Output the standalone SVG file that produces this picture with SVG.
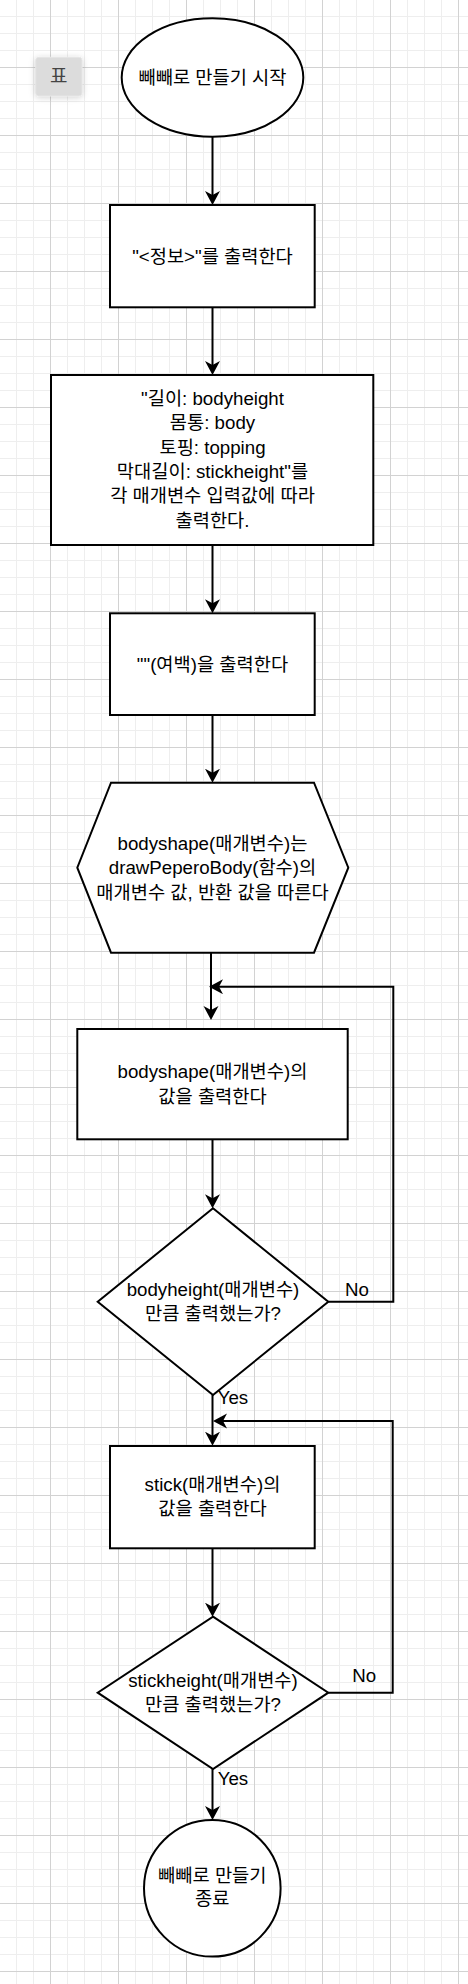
<svg xmlns="http://www.w3.org/2000/svg" width="468" height="1984" viewBox="0 0 468 1984">
<defs>
<pattern id="grid" patternUnits="userSpaceOnUse" x="50" y="67" width="68" height="68">
<rect width="68" height="68" fill="#ffffff"/>
<g fill="#eeeeee">
<rect x="17" y="0" width="1" height="68"/><rect x="34" y="0" width="1" height="68"/><rect x="51" y="0" width="1" height="68"/>
<rect x="0" y="17" width="68" height="1"/><rect x="0" y="34" width="68" height="1"/><rect x="0" y="51" width="68" height="1"/>
</g>
<g fill="#d2d2d2">
<rect x="0" y="0" width="1" height="68"/><rect x="0" y="0" width="68" height="1"/>
</g>
</pattern>
<marker id="arr" markerUnits="userSpaceOnUse" markerWidth="20" markerHeight="20" refX="10" refY="7.5" orient="auto">
<path d="M0,0 L14,7.5 L0,15 L4,7.5 Z" fill="#000000"/>
</marker>
<filter id="sh" x="-50%" y="-50%" width="200%" height="200%">
<feDropShadow dx="0" dy="1" stdDeviation="3" flood-color="#000000" flood-opacity="0.18"/>
</filter>
<style>
.n{fill:#ffffff;stroke:#000000;stroke-width:2}
.t{font-family:"Liberation Sans","Noto Sans CJK KR",sans-serif;font-size:18.7px;fill:#000000;text-anchor:middle}
.l{font-family:"Liberation Sans","Noto Sans CJK KR",sans-serif;font-size:18.7px;fill:#000000}
.e{fill:none;stroke:#000000;stroke-width:2;marker-end:url(#arr)}
</style>
</defs>
<rect width="468" height="1984" fill="url(#grid)"/>

<g id="table-button">
<rect x="35.7" y="57.3" width="46.3" height="38.7" rx="3" fill="#dcdcdc" stroke="#e6e6e6" stroke-width="1" filter="url(#sh)"/>
<text x="58.8" y="83" font-family="'Noto Sans CJK KR',sans-serif" font-size="19" fill="#444444" text-anchor="middle">표</text>
</g>

<g id="connectors">
<path class="e" d="M212.5,136.7 V201"/>
<path class="e" d="M212.5,307.3 V371"/>
<path class="e" d="M212.5,545 V609.3"/>
<path class="e" d="M212.5,715 V778.7"/>
<path class="e" d="M211,952.7 V1016"/>
<path class="e" d="M328.3,1301.7 H393.3 V986.7 H213"/>
<path class="e" d="M212.5,1139.3 V1204.3"/>
<path class="e" d="M212.5,1395 V1441.7"/>
<path class="e" d="M328.3,1692.7 H392.7 V1421 H217"/>
<path class="e" d="M212.5,1548.3 V1612.7"/>
<path class="e" d="M212.5,1769 V1816"/>
<text class="l" x="345" y="1296">No</text>
<text class="l" x="217.7" y="1403.5">Yes</text>
<text class="l" x="352.3" y="1682.3">No</text>
<text class="l" x="217.7" y="1785">Yes</text>
</g>

<g id="start">
<ellipse class="n" cx="212.5" cy="77.5" rx="90.8" ry="59.2"/>
<text class="t" x="212.5" y="84">빼빼로 만들기 시작</text>
</g>

<g id="print-info">
<rect class="n" x="110" y="205" width="204.7" height="102.3"/>
<text class="t" x="212.5" y="263">"&lt;정보&gt;"를 출력한다</text>
</g>

<g id="print-params">
<rect class="n" x="51" y="375" width="322.3" height="170"/>
<text class="t" x="212.5" y="405">"길이: bodyheight</text>
<text class="t" x="212.5" y="429.3">몸통: body</text>
<text class="t" x="212.5" y="453.6">토핑: topping</text>
<text class="t" x="212.5" y="478">막대길이: stickheight"를</text>
<text class="t" x="212.5" y="502.3">각 매개변수 입력값에 따라</text>
<text class="t" x="212.5" y="526.6">출력한다.</text>
</g>

<g id="print-blank">
<rect class="n" x="110" y="613.3" width="204.7" height="101.7"/>
<text class="t" x="212.5" y="671">""(여백)을 출력한다</text>
</g>

<g id="bodyshape-prep">
<polygon class="n" points="111,782.7 314,782.7 348.3,867.7 314,952.7 111,952.7 77.3,867.7"/>
<text class="t" x="212.5" y="849.5">bodyshape(매개변수)는</text>
<text class="t" x="212.5" y="874">drawPeperoBody(함수)의</text>
<text class="t" x="212.5" y="898.5">매개변수 값, 반환 값을 따른다</text>
</g>

<g id="print-bodyshape">
<rect class="n" x="77.3" y="1029" width="270.4" height="110.3"/>
<text class="t" x="212.5" y="1078.3">bodyshape(매개변수)의</text>
<text class="t" x="212.5" y="1102.6">값을 출력한다</text>
</g>

<g id="check-bodyheight">
<polygon class="n" points="213,1208.3 328.3,1301.7 213,1395 97.7,1301.7"/>
<text class="t" x="213" y="1296">bodyheight(매개변수)</text>
<text class="t" x="213" y="1319.5">만큼 출력했는가?</text>
</g>

<g id="print-stick">
<rect class="n" x="110" y="1446" width="204.7" height="102.3"/>
<text class="t" x="212.5" y="1490.7">stick(매개변수)의</text>
<text class="t" x="212.5" y="1515">값을 출력한다</text>
</g>

<g id="check-stickheight">
<polygon class="n" points="213,1616.7 328.3,1692.7 213,1769 97.7,1692.7"/>
<text class="t" x="213" y="1686.7">stickheight(매개변수)</text>
<text class="t" x="213" y="1710.7">만큼 출력했는가?</text>
</g>

<g id="end">
<circle class="n" cx="212.3" cy="1888.3" r="68.3"/>
<text class="t" x="212.3" y="1881.7">빼빼로 만들기</text>
<text class="t" x="212.3" y="1905">종료</text>
</g>
</svg>
